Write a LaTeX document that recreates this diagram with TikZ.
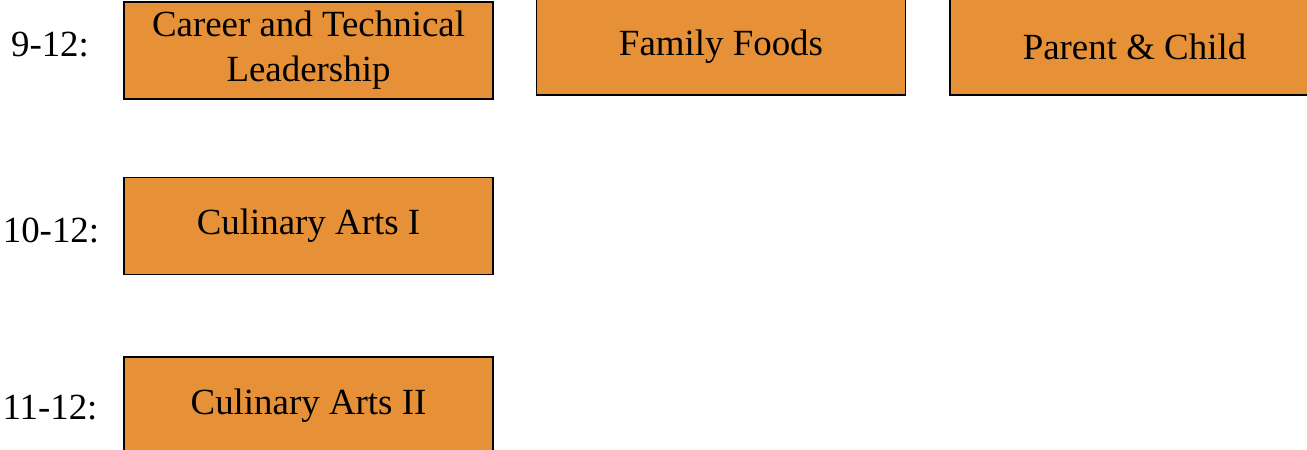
\documentclass[tikz,border=0pt]{standalone}
\usepackage{fontspec}
\setmainfont{Liberation Serif}
\usepackage{tikz}
\usetikzlibrary{positioning}
\definecolor{courseorange}{HTML}{E69138}
\tikzset{
  course/.style=
  {
    draw=black,
    line width=0.5pt,
    fill=courseorange,
    minimum width=3.69cm,
    minimum height=0.97cm,
    inner ysep=0pt,
    align=center,
    font=\fontsize{10.5}{12.8}\selectfont
  },
  grade/.style=
  {
    font=\fontsize{10.5}{12.8}\selectfont
  }
 }
\begin{document}
\begin{tikzpicture}
  \useasboundingbox (0,0) rectangle (13.07,-4.49);
  \clip (0,0) rectangle (13.07,-4.49);
  \node[course] (ctl) at (3.085,-0.505) {Career and Technical\\Leadership};
  \node[course] (foods) at (7.21,-0.465) {Family Foods};
  \node[course] (child) at (11.345,-0.465) {Parent \& Child};
  \node[course] (cul1) at (3.085,-2.26) {Culinary Arts I};
  \node[course] (cul2) at (3.085,-4.055) {Culinary Arts II};
  \node[grade] (g9) at (0.50,-0.45) {9-12:};
  \node[grade] (g10) at (0.51,-2.30) {10-12:};
  \node[grade] (g11) at (0.50,-4.08) {11-12:};
\end{tikzpicture}
\end{document}
